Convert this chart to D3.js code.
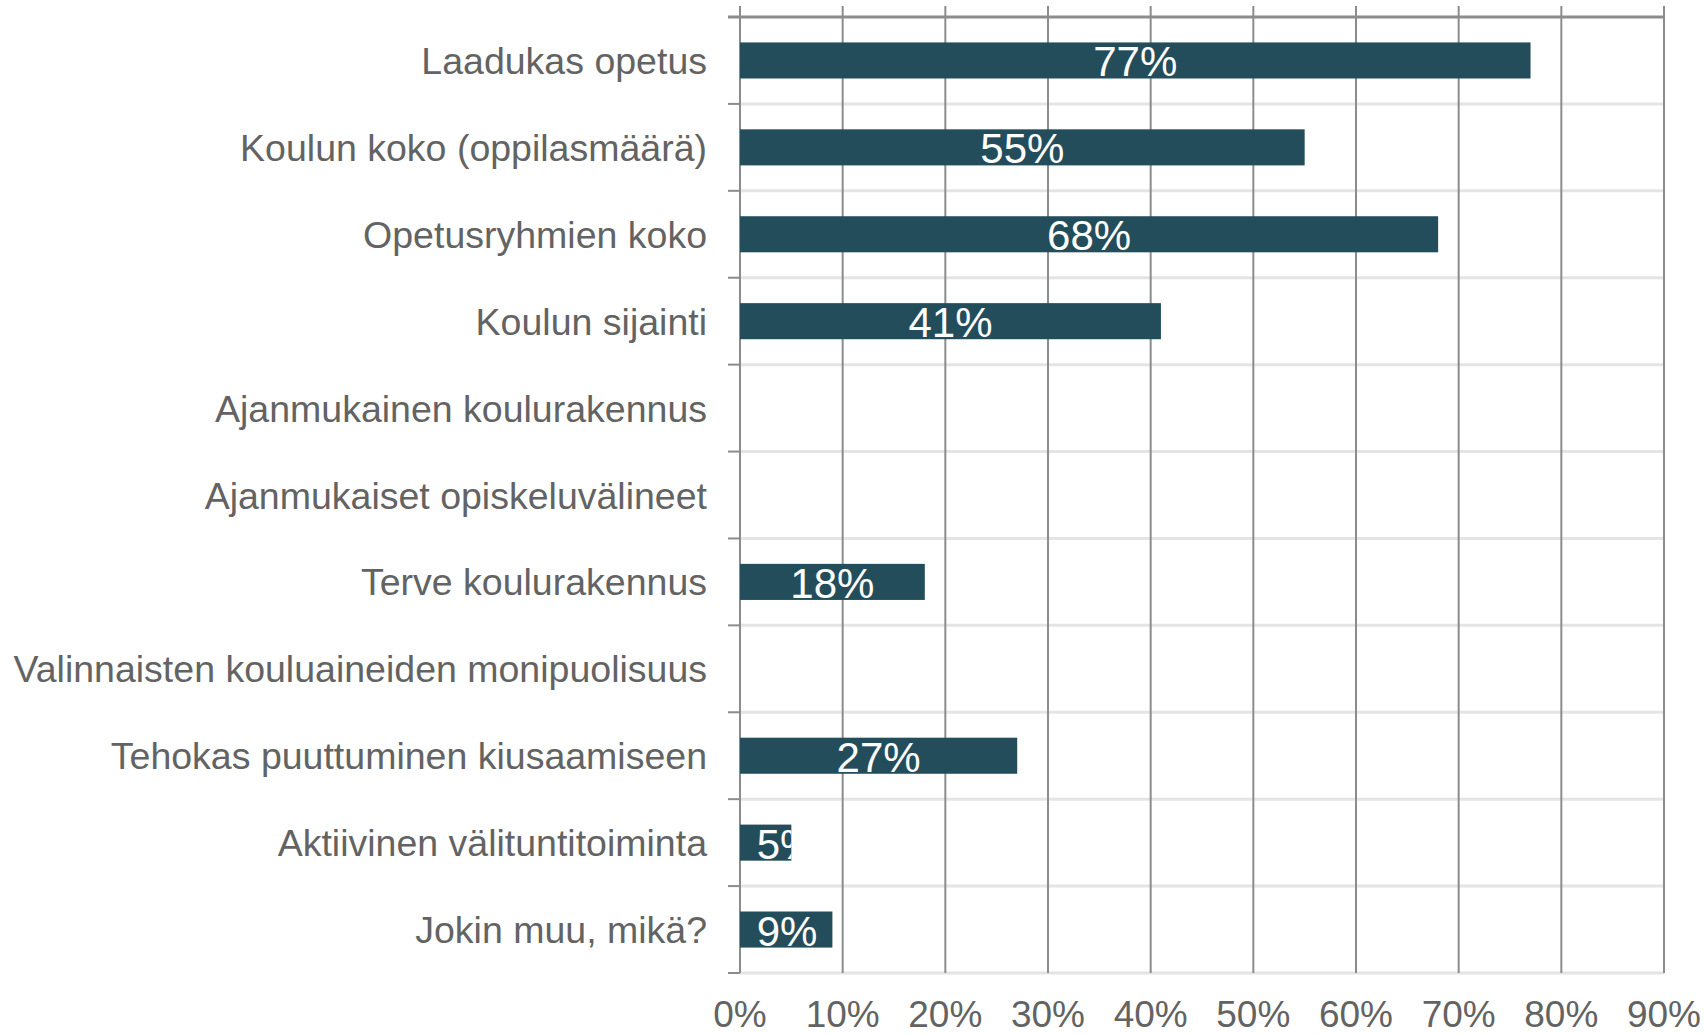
<!DOCTYPE html>
<html>
<head>
<meta charset="utf-8">
<script src="https://cdn.jsdelivr.net/npm/d3@7"></script>
<style>
  body { margin: 0; background: #fff; }
  text { font-family: "Liberation Sans", Arial, sans-serif; }
</style>
</head>
<body>
<div id="chart"></div>
<script>
// chart data
const categories = [
  "Laadukas opetus",
  "Koulun koko (oppilasmäärä)",
  "Opetusryhmien koko",
  "Koulun sijainti",
  "Ajanmukainen koulurakennus",
  "Ajanmukaiset opiskeluvälineet",
  "Terve koulurakennus",
  "Valinnaisten kouluaineiden monipuolisuus",
  "Tehokas puuttuminen kiusaamiseen",
  "Aktiivinen välituntitoiminta",
  "Jokin muu, mikä?"
];
const values = [77, 55, 68, 41, null, null, 18, null, 27, 5, 9];
const xTicks = [0, 10, 20, 30, 40, 50, 60, 70, 80, 90];

const W = 1706, H = 1035;
const margin = { top: 17, right: 42, bottom: 62, left: 740 };
const width = 1664 - margin.left, height = 973 - margin.top;

let svg = d3.select("#chart").append("svg")
  .attr("width", W).attr("height", H);

let g = svg.append("g").attr("transform", "translate(" + margin.left + "," + margin.top + ")");

let x = d3.scaleLinear().domain([0, 90]).range([0, width]);
let y = d3.scaleBand().domain(categories).range([0, height]).paddingInner(0).paddingOuter(0);
const barH = y.bandwidth() * 0.415;

// horizontal row separators (light)
g.selectAll(".hline")
  .data(categories.slice(1).map(c => y(c)).concat([height]))
  .enter().append("line")
  .attr("x1", 0).attr("x2", width)
  .attr("y1", d => d).attr("y2", d => d)
  .attr("stroke", "#e4e4e4").attr("stroke-width", 3);

// vertical gridlines
g.selectAll(".vline")
  .data(xTicks)
  .enter().append("line")
  .attr("x1", d => x(d)).attr("x2", d => x(d))
  .attr("y1", -11).attr("y2", height)
  .attr("stroke", "#8c8c8c").attr("stroke-width", 2);

// top line
g.append("line")
  .attr("x1", -12).attr("x2", width)
  .attr("y1", 0).attr("y2", 0)
  .attr("stroke", "#8c8c8c").attr("stroke-width", 3);

// y axis ticks at band boundaries
g.selectAll(".ytick")
  .data(categories.map(c => y(c)).concat([height]))
  .enter().append("line")
  .attr("x1", -12).attr("x2", 0)
  .attr("y1", d => d).attr("y2", d => d)
  .attr("stroke", "#8c8c8c").attr("stroke-width", 2);

// category labels
g.selectAll(".cat")
  .data(categories)
  .enter().append("text")
  .attr("x", -33)
  .attr("y", d => y(d) + y.bandwidth() / 2)
  .attr("dy", "0.36em")
  .attr("text-anchor", "end")
  .style("font-size", "37.5px")
  .style("fill", "#636363")
  .text(d => d);

// x tick labels
g.selectAll(".xt")
  .data(xTicks)
  .enter().append("text")
  .attr("x", d => x(d))
  .attr("y", height + 54)
  .attr("text-anchor", "middle")
  .style("font-size", "37px")
  .style("fill", "#636363")
  .text(d => d + "%");

// bars
let data = categories.map((c, i) => ({ axis: c, value: values[i], i: i }))
  .filter(d => d.value != null);

let defs = svg.append("defs");
defs.selectAll("clipPath")
  .data(data)
  .enter().append("clipPath")
  .attr("id", d => "clip" + d.i)
  .append("rect")
  .attr("x", 0)
  .attr("y", d => y(d.axis) + (y.bandwidth() - barH) / 2)
  .attr("width", d => x(d.value))
  .attr("height", barH);

let bars = g.selectAll(".bar")
  .data(data)
  .enter().append("g").attr("class", "bar");

bars.append("rect")
  .attr("x", 0)
  .attr("y", d => y(d.axis) + (y.bandwidth() - barH) / 2)
  .attr("width", d => x(d.value))
  .attr("height", barH)
  .attr("fill", "#234d5b");

bars.append("text")
  .attr("clip-path", d => "url(#clip" + d.i + ")")
  .attr("x", d => Math.max(x(d.value) / 2, 47))
  .attr("y", d => y(d.axis) + y.bandwidth() / 2)
  .attr("dy", "0.38em")
  .attr("text-anchor", "middle")
  .style("font-size", "42px")
  .style("fill", "#fff")
  .text(d => d.value + "%");
</script>
</body>
</html>
